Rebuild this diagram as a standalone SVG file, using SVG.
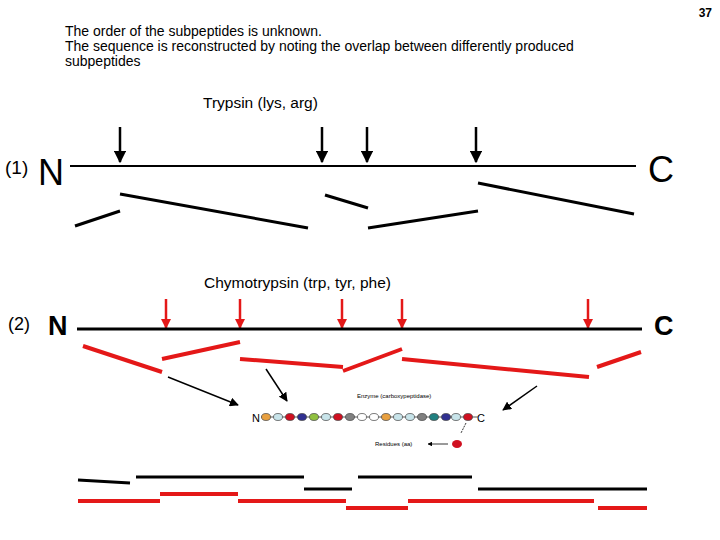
<svg xmlns="http://www.w3.org/2000/svg" width="720" height="540" viewBox="0 0 720 540">
<style>
text{font-family:"Liberation Sans",Arial,sans-serif;fill:#000}
.t{font-size:14px}
.k{stroke:#000;stroke-width:3}
.r{stroke:#e41818;stroke-width:4}
.ra{stroke:#e41818;stroke-width:2.5}
</style>
<defs>
<marker id="ab" viewBox="0 0 10 10" refX="9" refY="5" markerWidth="5" markerHeight="5" orient="auto"><path d="M0,0L10,5L0,10z" fill="#000"/></marker>
<marker id="ar" viewBox="0 0 10 10" refX="9" refY="5" markerWidth="4" markerHeight="4" orient="auto"><path d="M0,0L10,5L0,10z" fill="#e41818"/></marker>
<marker id="as" viewBox="0 0 10 10" refX="9" refY="5" markerWidth="6" markerHeight="6" orient="auto"><path d="M0,0L10,5L0,10z" fill="#000"/></marker>
<marker id="am" viewBox="0 0 10 10" refX="9" refY="5" markerWidth="6" markerHeight="6" orient="auto"><path d="M0,0L10,5L0,10z" fill="#000"/></marker>
</defs>
<rect width="720" height="540" fill="#fff"/>
<text x="712" y="17" font-size="12" font-weight="bold" text-anchor="end">37</text>
<text class="t" x="65" y="36">The order of the subpeptides is unknown.</text>
<text class="t" x="65" y="51">The sequence is reconstructed by noting the overlap between differently produced</text>
<text class="t" x="65" y="66">subpeptides</text>
<g id="row1">
<text x="203" y="108" font-size="15.5">Trypsin (lys, arg)</text>
<text x="5" y="174" font-size="19" fill="#333">(1)</text>
<text x="38" y="185" font-size="36" fill="#333">N</text>
<text x="648" y="182" font-size="36" fill="#333">C</text>
<line x1="70" y1="166" x2="636" y2="166" stroke="#000" stroke-width="2"/>
</g>
<g id="connectors">
<g stroke="#000" stroke-width="2.5" marker-end="url(#ab)">
<line x1="120" y1="127" x2="120" y2="162"/>
<line x1="322" y1="127" x2="322" y2="162"/>
<line x1="367" y1="127" x2="367" y2="162"/>
<line x1="476" y1="127" x2="476" y2="162"/>
</g>
<g class="k">
<line x1="75" y1="226" x2="120" y2="211"/>
<line x1="120" y1="194" x2="308" y2="228"/>
<line x1="325" y1="195" x2="368" y2="208"/>
<line x1="368" y1="228" x2="478" y2="211"/>
<line x1="478" y1="183" x2="634" y2="214"/>
</g>
<g class="ra" marker-end="url(#ar)">
<line x1="166" y1="299" x2="166" y2="328"/>
<line x1="240" y1="299" x2="240" y2="328"/>
<line x1="342" y1="299" x2="342" y2="328"/>
<line x1="402" y1="299" x2="402" y2="328"/>
<line x1="588" y1="299" x2="588" y2="328"/>
</g>
<g class="r">
<line x1="83" y1="346" x2="162" y2="372"/>
<line x1="162" y1="359" x2="240" y2="342"/>
<line x1="240" y1="359" x2="343" y2="367"/>
<line x1="343" y1="371" x2="402" y2="349"/>
<line x1="402" y1="359" x2="589" y2="377"/>
<line x1="597" y1="367" x2="641" y2="352"/>
</g>
<g stroke="#000" stroke-width="1.5" marker-end="url(#as)">
<line x1="168" y1="377" x2="238" y2="405"/>
<line x1="266" y1="369" x2="287" y2="401"/>
<line x1="537" y1="386" x2="503" y2="410"/>
</g>
<g class="k">
<line x1="78" y1="480" x2="130" y2="483"/>
<line x1="136" y1="477" x2="304" y2="477"/>
<line x1="304" y1="489" x2="352" y2="489"/>
<line x1="358" y1="477" x2="472" y2="477"/>
<line x1="478" y1="489" x2="647" y2="489"/>
</g>
<g class="r">
<line x1="78" y1="501" x2="160" y2="501"/>
<line x1="160" y1="494" x2="238" y2="494"/>
<line x1="238" y1="501" x2="346" y2="501"/>
<line x1="346" y1="508" x2="408" y2="508"/>
<line x1="408" y1="501" x2="594" y2="501"/>
<line x1="598" y1="508" x2="647" y2="508"/>
</g>
</g>
<g id="row2">
<text x="204" y="288" font-size="15.5">Chymotrypsin (trp, tyr, phe)</text>
<text x="8" y="330" font-size="18" fill="#333">(2)</text>
<text x="48" y="335" font-size="27" font-weight="bold">N</text>
<text x="654" y="335" font-size="27" font-weight="bold">C</text>
<line x1="77" y1="329" x2="642" y2="329" stroke="#000" stroke-width="3"/>
</g>
<g id="inset">
<text x="357" y="398" font-size="6" fill="#555">Enzyme (carboxypeptidase)</text>
<text x="252" y="422" font-size="11">N</text>
<text x="477" y="422" font-size="11">C</text>
<line x1="261" y1="417" x2="478" y2="417" stroke="#555" stroke-width="1"/>
<g stroke="#444" stroke-width="0.7">
<ellipse cx="266" cy="417" rx="4.5" ry="3.5" fill="#e8a040"/>
<ellipse cx="278" cy="417" rx="4.5" ry="3.5" fill="#c8e4ea"/>
<ellipse cx="290" cy="417" rx="4.5" ry="3.5" fill="#d01020"/>
<ellipse cx="302" cy="417" rx="4.5" ry="3.5" fill="#303090"/>
<ellipse cx="314" cy="417" rx="4.5" ry="3.5" fill="#90c040"/>
<ellipse cx="326" cy="417" rx="4.5" ry="3.5" fill="#c8e4ea"/>
<ellipse cx="338" cy="417" rx="4.5" ry="3.5" fill="#d01020"/>
<ellipse cx="350" cy="417" rx="4.5" ry="3.5" fill="#808080"/>
<ellipse cx="362" cy="417" rx="4.5" ry="3.5" fill="#fff"/>
<ellipse cx="374" cy="417" rx="4.5" ry="3.5" fill="#fff"/>
<ellipse cx="386" cy="417" rx="4.5" ry="3.5" fill="#e8a040"/>
<ellipse cx="398" cy="417" rx="4.5" ry="3.5" fill="#c8e4ea"/>
<ellipse cx="410" cy="417" rx="4.5" ry="3.5" fill="#c8e4ea"/>
<ellipse cx="422" cy="417" rx="4.5" ry="3.5" fill="#808080"/>
<ellipse cx="434" cy="417" rx="4.5" ry="3.5" fill="#208080"/>
<ellipse cx="446" cy="417" rx="4.5" ry="3.5" fill="#303090"/>
<ellipse cx="456" cy="417" rx="4.5" ry="3.5" fill="#c8e4ea"/>
<ellipse cx="468" cy="417" rx="4.5" ry="3.5" fill="#d01020"/>
</g>
<line x1="466" y1="423" x2="461" y2="433" stroke="#000" stroke-width="0.8" stroke-dasharray="2,1"/>
<ellipse cx="457" cy="444" rx="5" ry="4" fill="#d01020"/>
<line x1="448" y1="444" x2="428" y2="444" stroke="#000" stroke-width="0.8" marker-end="url(#am)"/>
<text x="375" y="446" font-size="6" fill="#555">Residues (aa)</text>
</g>
</svg>
